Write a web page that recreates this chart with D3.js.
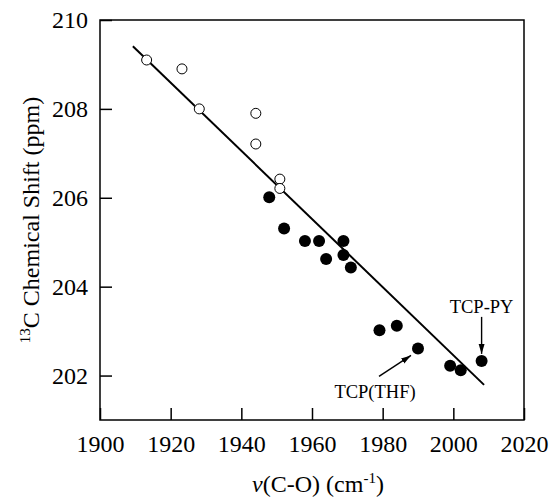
<!DOCTYPE html>
<html>
<head>
<meta charset="utf-8">
<script src="https://cdn.jsdelivr.net/npm/d3@7"></script>
<style>
  body { margin: 0; background: #fff; }
  svg { display: block; }
  svg text { font-family: "Liberation Serif", "Times New Roman", serif; fill: #000; }
</style>
</head>
<body>
<div id="chart"></div>
<script>
// open circles
var openX = [1913.2, 1923.2, 1928.1, 1944.1, 1944.1, 1950.9, 1950.9];
var openY = [209.10, 208.90, 208.00, 207.90, 207.21, 206.42, 206.21];
// filled circles
var filledX = [1947.9, 1952.1, 1958.0, 1962.0, 1968.9, 1964.0, 1968.9, 1971.0, 1979.1, 1984.0, 1990.0, 1999.1, 2002.1, 2008.0];
var filledY = [206.01, 205.31, 205.03, 205.03, 205.03, 204.62, 204.71, 204.43, 203.02, 203.12, 202.61, 202.22, 202.12, 202.33];
// fitted line end points
var fitX = [1909.3, 2008.7];
var fitY = [209.41, 201.79];
var xTicks = [1900, 1920, 1940, 1960, 1980, 2000, 2020];
var yTicks = [202, 204, 206, 208, 210];

(function() {
  var width = 555, height = 498;
  var mLeft = 100, mRight = 524, mTop = 20, mBottom = 420;

  var svg = d3.select("#chart").append("svg")
    .attr("width", width)
    .attr("height", height);

  var x = d3.scaleLinear().domain([1900, 2020]).range([mLeft, mRight]);
  var y = d3.scaleLinear().domain([201, 210]).range([mBottom, mTop]);

  // arrow head
  svg.append("defs").append("marker")
    .attr("id", "arrow")
    .attr("viewBox", "0 -4 10 8")
    .attr("refX", 10).attr("refY", 0)
    .attr("markerUnits", "userSpaceOnUse")
    .attr("markerWidth", 10).attr("markerHeight", 8)
    .attr("orient", "auto")
    .append("path")
    .attr("d", "M0,-3L10,0L0,3Z")
    .attr("fill", "#000");

  // axes (ticks point inward)
  var xAxis = svg.append("g")
    .attr("transform", "translate(0," + mBottom + ")")
    .call(d3.axisBottom(x).tickValues(xTicks).tickSize(-12).tickFormat(d3.format("d")));
  xAxis.select(".domain").remove();
  xAxis.selectAll("line").attr("stroke-width", 1.5);
  xAxis.selectAll("text")
    .attr("y", 32).attr("dy", null)
    .style("font-size", "24px");

  var yAxis = svg.append("g")
    .attr("transform", "translate(" + mLeft + ",0)")
    .call(d3.axisLeft(y).tickValues(yTicks).tickSize(-12));
  yAxis.select(".domain").remove();
  yAxis.selectAll("line").attr("stroke-width", 1.5);
  yAxis.selectAll("text")
    .attr("x", -12)
    .style("font-size", "24px");

  // frame
  svg.append("rect")
    .attr("x", mLeft).attr("y", mTop)
    .attr("width", mRight - mLeft).attr("height", mBottom - mTop)
    .attr("fill", "none")
    .attr("stroke", "#000")
    .attr("stroke-width", 1.5);

  // fitted line
  svg.append("line")
    .attr("x1", x(fitX[0])).attr("y1", y(fitY[0]))
    .attr("x2", x(fitX[1])).attr("y2", y(fitY[1]))
    .attr("stroke", "#000")
    .attr("stroke-width", 2);

  // points
  svg.append("g").selectAll("circle")
    .data(openX)
    .enter().append("circle")
    .attr("cx", function(d) { return x(d); })
    .attr("cy", function(d, i) { return y(openY[i]); })
    .attr("r", 5)
    .attr("fill", "#fff")
    .attr("stroke", "#000")
    .attr("stroke-width", 1);

  svg.append("g").selectAll("circle")
    .data(filledX)
    .enter().append("circle")
    .attr("cx", function(d) { return x(d); })
    .attr("cy", function(d, i) { return y(filledY[i]); })
    .attr("r", 6)
    .attr("fill", "#000");

  // annotations
  var pi = filledX.length - 1; // TCP-PY
  var px = x(filledX[pi]), py = y(filledY[pi]);
  svg.append("line")
    .attr("x1", px).attr("y1", py - 44)
    .attr("x2", px).attr("y2", py - 7)
    .attr("stroke", "#000").attr("stroke-width", 1.4)
    .attr("marker-end", "url(#arrow)");
  svg.append("text")
    .attr("x", px).attr("y", py - 48)
    .attr("text-anchor", "middle")
    .style("font-size", "18.5px")
    .text("TCP-PY");

  var ti = 10; // TCP(THF)
  var tx = x(filledX[ti]), ty = y(filledY[ti]);
  svg.append("line")
    .attr("x1", tx - 39).attr("y1", ty + 28)
    .attr("x2", tx - 7).attr("y2", ty + 7)
    .attr("stroke", "#000").attr("stroke-width", 1.4)
    .attr("marker-end", "url(#arrow)");
  svg.append("text")
    .attr("x", tx - 43).attr("y", ty + 50)
    .attr("text-anchor", "middle")
    .style("font-size", "18.5px")
    .text("TCP(THF)");

  // axis titles
  var yt = svg.append("text")
    .attr("transform", "translate(39,220) rotate(-90)")
    .attr("text-anchor", "middle")
    .style("font-size", "24px");
  yt.append("tspan").text("13").style("font-size", "15px").attr("dy", -9);
  yt.append("tspan").text("C Chemical Shift (ppm)").attr("dy", 9);

  var xt = svg.append("text")
    .attr("x", 318).attr("y", 492)
    .attr("text-anchor", "middle")
    .style("font-size", "24px");
  xt.append("tspan").text("ν").style("font-style", "italic");
  xt.append("tspan").text("(C-O) (cm");
  xt.append("tspan").text("-1").style("font-size", "15px").attr("dy", -9);
  xt.append("tspan").text(")").attr("dy", 9);
})();
</script>
</body>
</html>
